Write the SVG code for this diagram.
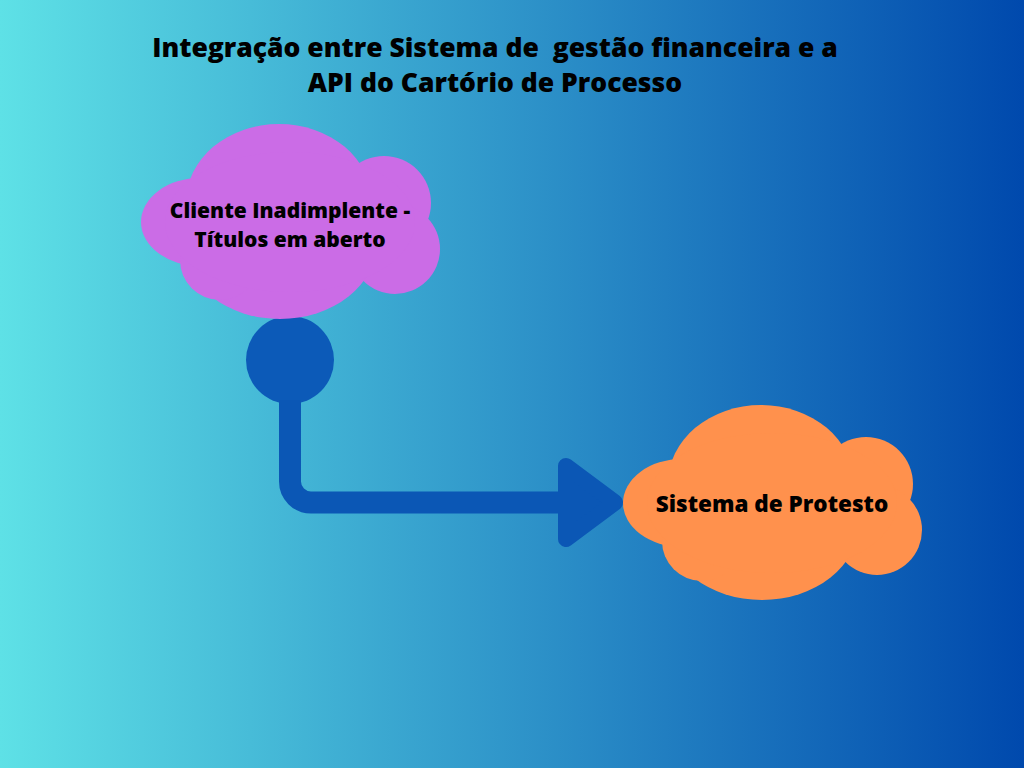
<svg xmlns="http://www.w3.org/2000/svg" xmlns:xlink="http://www.w3.org/1999/xlink" width="1024" height="768" viewBox="0 0 1024 768">
  <defs>
    <linearGradient id="bg" x1="0" y1="0" x2="1" y2="0">
      <stop offset="0" stop-color="#5ee1e6"/>
      <stop offset="1" stop-color="#0049ad"/>
    </linearGradient>
    <g id="cloud">
      <ellipse cx="139" cy="80" rx="93" ry="78"/>
      <circle cx="244" cy="81" r="47"/>
      <circle cx="255" cy="127" r="45"/>
      <ellipse cx="140" cy="120" rx="97" ry="77"/>
      <ellipse cx="60" cy="100" rx="59" ry="44"/>
      <circle cx="80" cy="138" r="40"/>
      <ellipse cx="150" cy="100" rx="125" ry="70"/>
    </g>
  </defs>
  <style>
    .title { font-family: "Open Sans", "Liberation Sans", sans-serif; font-weight: 800; font-size: 26.5px; fill: #000; text-anchor: middle; white-space: pre; }
    .label { font-family: "Open Sans", "Liberation Sans", sans-serif; font-weight: 800; fill: #000; text-anchor: middle; }
    .conn { fill: none; stroke: #0b57b5; }
  </style>
  <rect x="0" y="0" width="1024" height="768" fill="url(#bg)"/>

  <g id="title">
    <text class="title" x="495" y="57" xml:space="preserve">Integração entre Sistema de  gestão financeira e a</text>
    <text class="title" x="495" y="92">API do Cartório de Processo</text>
  </g>

  <g id="connectors">
    <circle cx="290" cy="360" r="44" fill="#0c5ab8"/>
    <path class="conn" d="M290,400 V481.5 A21,21 0 0 0 311,502.5 H570" stroke-width="22"/>
    <path d="M566,466 L615,502.5 L566,539 Z" fill="#0b57b5" stroke="#0b57b5" stroke-width="16" stroke-linejoin="round"/>
  </g>

  <g id="node-cliente">
    <use xlink:href="#cloud" href="#cloud" transform="translate(140,122)" fill="#cb6ce6"/>
    <text class="label" x="290" y="218" font-size="21">Cliente Inadimplente -</text>
    <text class="label" x="290" y="247" font-size="21">Títulos em aberto</text>
  </g>

  <g id="node-protesto">
    <use xlink:href="#cloud" href="#cloud" transform="translate(622,403)" fill="#ff914d"/>
    <text class="label" x="772" y="512" font-size="22.5">Sistema de Protesto</text>
  </g>
</svg>
